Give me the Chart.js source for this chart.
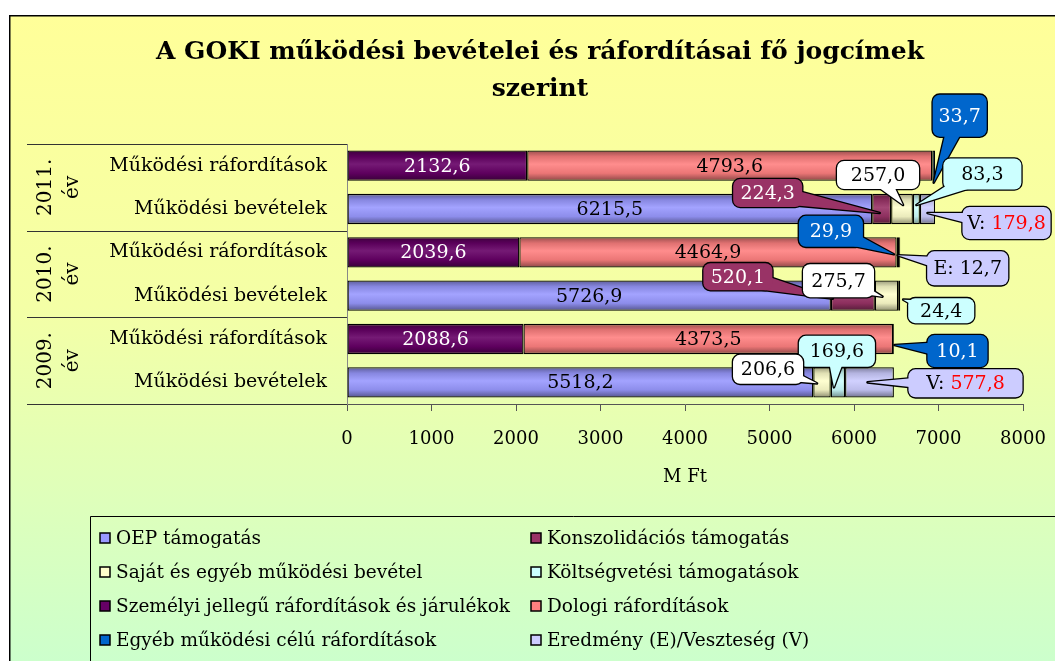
<!DOCTYPE html>
<html><head><meta charset="utf-8">
<script src="https://cdn.jsdelivr.net/npm/chart.js@4.4.1/dist/chart.umd.min.js"></script>
<style>html,body{margin:0;padding:0;background:#fff;overflow:hidden}#wrap{width:1055px;height:661px;position:relative}</style>
</head><body><div id="wrap"><canvas id="c" width="1055" height="661"></canvas></div>
<script>
// ---------- DATA ----------
const titleLines = ['A GOKI működési bevételei és ráfordításai fő jogcímek', 'szerint'];
const years = ['2011.', '2010.', '2009.'];
const yearSuffix = 'év';
const rowLabels = ['Működési ráfordítások', 'Működési bevételek', 'Működési ráfordítások', 'Működési bevételek', 'Működési ráfordítások', 'Működési bevételek'];
const seriesNames = ['OEP támogatás', 'Konszolidációs támogatás', 'Saját és egyéb működési bevétel', 'Költségvetési támogatások', 'Személyi jellegű ráfordítások és járulékok', 'Dologi ráfordítások', 'Egyéb működési célú ráfordítások', 'Eredmény (E)/Veszteség (V)'];
const oep            = [null, 6215.5, null, 5726.9, null, 5518.2];
const konszolidacios = [null, 224.3, null, 520.1, null, null];
const sajat          = [null, 257.0, null, 275.7, null, 206.6];
const koltsegvetesi  = [null, 83.3, null, 24.4, null, 169.6];
const szemelyi       = [2132.6, null, 2039.6, null, 2088.6, null];
const dologi         = [4793.6, null, 4464.9, null, 4373.5, null];
const egyeb          = [33.7, null, 29.9, null, 10.1, null];
const eredmeny       = [null, 179.8, 12.7, null, null, 577.8];
const eredmenyPrefix = [null, 'V', 'E', null, null, 'V'];
const xMin = 0, xMax = 8000, xStep = 1000;
const axisTitle = 'M Ft';

// ---------- STYLE ----------
const colors = ['#9999FF', '#993366', '#FFFFCC', '#CCFFFF', '#660066', '#FF8080', '#0066CC', '#CCCCFF'];
const calloutFills = ['#9999FF', '#993366', '#FFFFFF', '#CCFFFF', '#660066', '#FF8080', '#0066CC', '#CCCCFF'];
const textColors = ['#000', '#fff', '#000', '#000', '#fff', '#000', '#fff', '#000'];
const SERIF = '"DejaVu Serif", "Liberation Serif", serif';
// callout placement: offsets (px) of box centre and pointer tip from the segment centre
const callouts = [
  {ds: 6, row: 0, dx: 26, dy: -50, w: 54, h: 42, tx: 0, ty: 17},
  {ds: 2, row: 1, dx: -24, dy: -34, w: 82, h: 28, tx: 1, ty: -4},
  {ds: 3, row: 1, dx: 66, dy: -35, w: 78, h: 31, tx: 0, ty: -4},
  {ds: 1, row: 1, dx: -114, dy: -16, w: 69, h: 28, tx: -2, ty: 4},
  {ds: 7, row: 1, dx: 79, dy: 14, w: 88, h: 32, tx: 0, ty: 4},
  {ds: 6, row: 2, dx: -67, dy: -21, w: 64, h: 31, tx: -4, ty: 2},
  {ds: 7, row: 2, dx: 68, dy: 16, w: 81, h: 34, tx: -2, ty: 3},
  {ds: 1, row: 3, dx: -115, dy: -19, w: 69, h: 27, tx: -20, ty: 3},
  {ds: 2, row: 3, dx: -48, dy: -15, w: 71, h: 33, tx: -4, ty: 1},
  {ds: 3, row: 3, dx: 42, dy: 15, w: 66, h: 25, tx: 4, ty: 4},
  {ds: 6, row: 4, dx: 64, dy: 12, w: 60, h: 32, tx: 1, ty: 6},
  {ds: 3, row: 5, dx: -1, dy: -31, w: 76, h: 31, tx: -4, ty: 5},
  {ds: 2, row: 5, dx: -54, dy: -13, w: 70, h: 29, tx: -5, ty: 1},
  {ds: 7, row: 5, dx: 96, dy: 1, w: 114, h: 28, tx: -2, ty: 0}
];

function fmt(v) { return v.toFixed(1).replace('.', ','); }
function shade(hex, f) {
  let r = parseInt(hex.slice(1, 3), 16), g = parseInt(hex.slice(3, 5), 16), b = parseInt(hex.slice(5, 7), 16);
  if (f <= 1) { r *= f; g *= f; b *= f; }
  else { const t = f - 1; r += (255 - r) * t; g += (255 - g) * t; b += (255 - b) * t; }
  return 'rgb(' + Math.round(r) + ',' + Math.round(g) + ',' + Math.round(b) + ')';
}
const BAR_PCT = 0.7;
function barFill(color) {
  return (ctx) => {
    const chart = ctx.chart, ys = chart.scales && chart.scales.y;
    if (!chart.chartArea || !ys || ctx.dataIndex == null) return color;
    const c = ys.getPixelForValue(ctx.dataIndex);
    const h = ys.height / rowLabels.length * BAR_PCT;
    const g = chart.ctx.createLinearGradient(0, c - h / 2, 0, c + h / 2);
    g.addColorStop(0, shade(color, 0.6));
    g.addColorStop(0.2, shade(color, 0.88));
    g.addColorStop(0.45, shade(color, 1.1));
    g.addColorStop(0.75, shade(color, 0.92));
    g.addColorStop(1, shade(color, 0.55));
    return g;
  };
}

const seriesData = [oep, konszolidacios, sajat, koltsegvetesi, szemelyi, dologi, egyeb, eredmeny];
const datasets = seriesData.map((d, i) => ({
  label: seriesNames[i], data: d,
  backgroundColor: barFill(colors[i]),
  borderColor: '#000', borderWidth: 1.3, borderSkipped: false,
  barPercentage: BAR_PCT, categoryPercentage: 1.0
}));

function roundRectPath(ctx, x, y, w, h, r) {
  ctx.beginPath();
  ctx.moveTo(x + r, y); ctx.lineTo(x + w - r, y); ctx.arcTo(x + w, y, x + w, y + r, r);
  ctx.lineTo(x + w, y + h - r); ctx.arcTo(x + w, y + h, x + w - r, y + h, r);
  ctx.lineTo(x + r, y + h); ctx.arcTo(x, y + h, x, y + h - r, r);
  ctx.lineTo(x, y + r); ctx.arcTo(x, y, x + r, y, r); ctx.closePath();
}
function drawCallout(ctx, cx, cy, w, h, tipX, tipY, fill) {
  const dx = tipX - cx, dy = tipY - cy, len = Math.hypot(dx, dy) || 1;
  const nx = -dy / len, ny = dx / len, bw = Math.min(10, h / 2 - 2, w / 2 - 2);
  const tri = () => { ctx.beginPath(); ctx.moveTo(cx + nx * bw, cy + ny * bw); ctx.lineTo(tipX, tipY); ctx.lineTo(cx - nx * bw, cy - ny * bw); ctx.closePath(); };
  ctx.lineWidth = 2.6; ctx.strokeStyle = '#000'; ctx.lineJoin = 'round';
  tri(); ctx.stroke();
  roundRectPath(ctx, cx - w / 2, cy - h / 2, w, h, 7); ctx.stroke();
  ctx.fillStyle = fill;
  tri(); ctx.fill();
  roundRectPath(ctx, cx - w / 2, cy - h / 2, w, h, 7); ctx.fill();
}

const deco = {
  id: 'deco',
  beforeDraw(chart) {
    const {ctx, width, height} = chart;
    ctx.save();
    ctx.fillStyle = '#fff'; ctx.fillRect(0, 0, width, height);
    const g = ctx.createLinearGradient(0, 15, 0, height);
    g.addColorStop(0, '#FFFF99'); g.addColorStop(0.45, '#F4FFA6'); g.addColorStop(1, '#CCFFCC');
    ctx.fillStyle = g; ctx.fillRect(9, 15, width, height);
    ctx.strokeStyle = '#000'; ctx.lineWidth = 1.5;
    ctx.beginPath(); ctx.moveTo(9.75, height + 5); ctx.lineTo(9.75, 15.75); ctx.lineTo(width + 5, 15.75); ctx.stroke();
    ctx.restore();
  },
  afterDatasetsDraw(chart) {
    const ctx = chart.ctx;
    ctx.save();
    ctx.font = '19px ' + SERIF; ctx.textAlign = 'center'; ctx.textBaseline = 'middle';
    const isCallout = (ds, row) => callouts.some(c => c.ds === ds && c.row === row);
    datasets.forEach((d, ds) => {
      const meta = chart.getDatasetMeta(ds);
      d.data.forEach((v, row) => {
        if (v == null || isCallout(ds, row)) return;
        const el = meta.data[row];
        ctx.fillStyle = textColors[ds];
        ctx.fillText(fmt(v), (el.x + el.base) / 2, el.y + 1);
      });
    });
    callouts.forEach(c => {
      const el = chart.getDatasetMeta(c.ds).data[c.row];
      const v = datasets[c.ds].data[c.row];
      const sx = (el.x + el.base) / 2, sy = el.y;
      const bx = sx + c.dx, by = sy + c.dy;
      drawCallout(ctx, bx, by, c.w, c.h, sx + c.tx, sy + c.ty, calloutFills[c.ds]);
      ctx.font = '19px ' + SERIF; ctx.textBaseline = 'middle';
      if (c.ds === 7) {
        const pre = eredmenyPrefix[c.row] + ': ', num = fmt(v);
        const w1 = ctx.measureText(pre).width, w2 = ctx.measureText(num).width;
        let x = bx - (w1 + w2) / 2;
        ctx.textAlign = 'left';
        ctx.fillStyle = '#000'; ctx.fillText(pre, x, by + 1);
        ctx.fillStyle = eredmenyPrefix[c.row] === 'V' ? '#FF0000' : '#000'; ctx.fillText(num, x + w1, by + 1);
      } else {
        ctx.textAlign = 'center'; ctx.fillStyle = textColors[c.ds];
        ctx.fillText(fmt(v), bx, by + 1);
      }
    });
    ctx.restore();
  },
  afterDraw(chart) {
    const ctx = chart.ctx, ys = chart.scales.y, area = chart.chartArea;
    ctx.save();
    // title
    ctx.fillStyle = '#000'; ctx.textAlign = 'center'; ctx.textBaseline = 'middle';
    ctx.font = 'bold 25px ' + SERIF;
    ctx.fillText(titleLines[0], 540, 52);
    ctx.fillText(titleLines[1], 540, 89);
    // group separators and year labels
    const band = ys.height / rowLabels.length;
    ctx.strokeStyle = '#333'; ctx.lineWidth = 1;
    for (let g = 0; g <= years.length; g++) {
      const y = Math.round(area.top + g * 2 * band) + 0.5;
      ctx.beginPath(); ctx.moveTo(27, y); ctx.lineTo(area.left, y); ctx.stroke();
    }
    ctx.font = '20px ' + SERIF;
    years.forEach((yr, g) => {
      const cy = area.top + (g * 2 + 1) * band;
      ctx.save(); ctx.translate(60, cy); ctx.rotate(-Math.PI / 2);
      ctx.fillText(yr, 0, -14); ctx.fillText(yearSuffix, 0, 13);
      ctx.restore();
    });
    // axis title
    ctx.font = '18px ' + SERIF;
    ctx.fillText(axisTitle, (area.left + area.right) / 2, 477);
    // legend
    ctx.strokeStyle = '#000'; ctx.lineWidth = 1;
    ctx.beginPath(); ctx.moveTo(90.5, chart.height + 5); ctx.lineTo(90.5, 516.5); ctx.lineTo(chart.width + 5, 516.5); ctx.stroke();
    ctx.font = '18.5px ' + SERIF; ctx.textAlign = 'left';
    seriesNames.forEach((n, i) => {
      const col = i % 2, row = Math.floor(i / 2);
      const sx = col ? 531 : 100, y = 538 + row * 34;
      ctx.fillStyle = colors[i]; ctx.fillRect(sx, y - 5, 10, 10);
      ctx.strokeStyle = '#000'; ctx.lineWidth = 1.5; ctx.strokeRect(sx, y - 5, 10, 10);
      ctx.fillStyle = '#000'; ctx.fillText(n, sx + 16, y + 1);
    });
    ctx.restore();
  }
};

new Chart(document.getElementById('c'), {
  type: 'bar',
  data: {labels: rowLabels, datasets},
  options: {
    indexAxis: 'y', responsive: false, animation: false, devicePixelRatio: 1,
    layout: {padding: {top: 144, right: 32, left: 0, bottom: 0}},
    plugins: {legend: {display: false}, tooltip: {enabled: false}, title: {display: false}},
    scales: {
      x: {
        type: 'linear', stacked: true, min: xMin, max: xMax,
        ticks: {stepSize: xStep, padding: 18, color: '#000', font: {family: SERIF, size: 18}, callback: v => String(v), maxRotation: 0},
        grid: {drawOnChartArea: false, drawTicks: true, tickLength: 7, color: '#555'},
        border: {display: true, color: '#555'},
        afterFit: s => { s.height = 661 - 404; s.paddingLeft = 0; s.paddingRight = 0; }
      },
      y: {
        type: 'category', stacked: true,
        ticks: {padding: 20, color: '#000', font: {family: SERIF, size: 19}, autoSkip: false},
        grid: {display: false, drawTicks: false},
        border: {display: true, color: '#888'},
        afterFit: s => { s.width = 347; s.paddingTop = 0; s.paddingBottom = 0; }
      }
    }
  },
  plugins: [deco]
});
</script>
</body></html>
